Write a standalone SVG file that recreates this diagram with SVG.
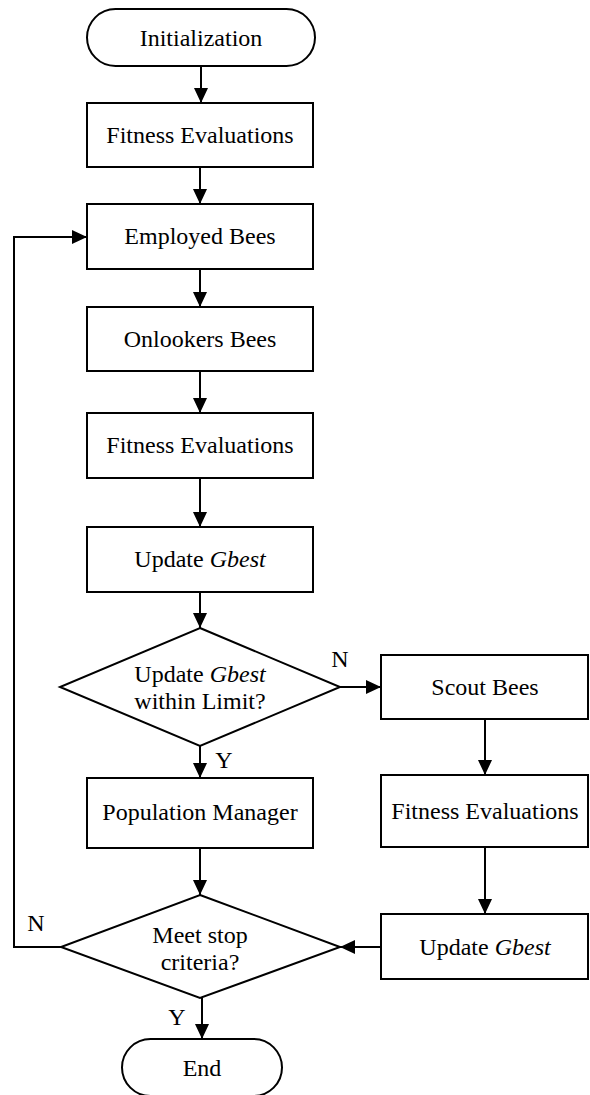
<svg xmlns="http://www.w3.org/2000/svg" width="590" height="1095" viewBox="0 0 590 1095">
<style>
.n{fill:#fff;stroke:#000;stroke-width:2}
.t{font-family:"Liberation Serif","Times New Roman",serif;font-size:24px;fill:#000;text-anchor:middle}
.l{font-family:"Liberation Serif","Times New Roman",serif;font-size:24px;fill:#000}
.c{fill:none;stroke:#000;stroke-width:2}
</style>
<defs>
<marker id="ah" markerWidth="15" markerHeight="14" refX="15" refY="7" orient="auto" markerUnits="userSpaceOnUse">
<path d="M0,0 L15,7 L0,14 Z" fill="#000"/>
</marker>
</defs>
<g id="connectors">
<line class="c" x1="201" y1="66" x2="201" y2="103" marker-end="url(#ah)"/>
<line class="c" x1="200" y1="167" x2="200" y2="204" marker-end="url(#ah)"/>
<line class="c" x1="200" y1="269" x2="200" y2="307" marker-end="url(#ah)"/>
<line class="c" x1="200" y1="371" x2="200" y2="413" marker-end="url(#ah)"/>
<line class="c" x1="200" y1="478" x2="200" y2="527" marker-end="url(#ah)"/>
<line class="c" x1="200" y1="592" x2="200" y2="628" marker-end="url(#ah)"/>
<line class="c" x1="340" y1="687" x2="381" y2="687" marker-end="url(#ah)"/>
<line class="c" x1="200" y1="746" x2="200" y2="778" marker-end="url(#ah)"/>
<line class="c" x1="485" y1="719" x2="485" y2="775" marker-end="url(#ah)"/>
<line class="c" x1="485" y1="847" x2="485" y2="914" marker-end="url(#ah)"/>
<line class="c" x1="381" y1="947" x2="340" y2="947" marker-end="url(#ah)"/>
<line class="c" x1="200" y1="848" x2="200" y2="895" marker-end="url(#ah)"/>
<line class="c" x1="202" y1="998" x2="202" y2="1039" marker-end="url(#ah)"/>
<polyline class="c" points="61,947 14,947 14,237 87,237" marker-end="url(#ah)"/>
<text class="l" x="340" y="667" text-anchor="middle">N</text>
<text class="l" x="224" y="768" text-anchor="middle">Y</text>
<text class="l" x="36" y="931" text-anchor="middle">N</text>
<text class="l" x="177" y="1025" text-anchor="middle">Y</text>
</g>
<g id="init"><rect class="n" x="87" y="9" width="228" height="57" rx="28.5"/><text class="t" x="201" y="46">Initialization</text></g>
<g id="fit1"><rect class="n" x="87" y="103" width="226" height="64"/><text class="t" x="200" y="143">Fitness Evaluations</text></g>
<g id="employed"><rect class="n" x="87" y="204" width="226" height="65"/><text class="t" x="200" y="244">Employed Bees</text></g>
<g id="onlookers"><rect class="n" x="87" y="307" width="226" height="64"/><text class="t" x="200" y="347">Onlookers Bees</text></g>
<g id="fit2"><rect class="n" x="87" y="413" width="226" height="65"/><text class="t" x="200" y="453">Fitness Evaluations</text></g>
<g id="gbest1"><rect class="n" x="87" y="527" width="226" height="65"/><text class="t" x="200" y="567">Update <tspan font-style="italic">Gbest</tspan></text></g>
<g id="dec1"><polygon class="n" points="200,628 340,687 200,746 60,687"/><text class="t" x="200" y="682">Update <tspan font-style="italic">Gbest</tspan></text><text class="t" x="200" y="709">within Limit?</text></g>
<g id="scout"><rect class="n" x="381" y="655" width="207" height="64"/><text class="t" x="485" y="695">Scout Bees</text></g>
<g id="popman"><rect class="n" x="87" y="778" width="226" height="70"/><text class="t" x="200" y="820">Population Manager</text></g>
<g id="fit3"><rect class="n" x="381" y="775" width="207" height="72"/><text class="t" x="485" y="819">Fitness Evaluations</text></g>
<g id="gbest2"><rect class="n" x="381" y="914" width="207" height="65"/><text class="t" x="485" y="955">Update <tspan font-style="italic">Gbest</tspan></text></g>
<g id="dec2"><polygon class="n" points="200,895 340,947 200,998 61,947"/><text class="t" x="200" y="943">Meet stop</text><text class="t" x="200" y="970">criteria?</text></g>
<g id="end"><rect class="n" x="122" y="1039" width="160" height="57" rx="28.5"/><text class="t" x="202" y="1076">End</text></g>
</svg>
